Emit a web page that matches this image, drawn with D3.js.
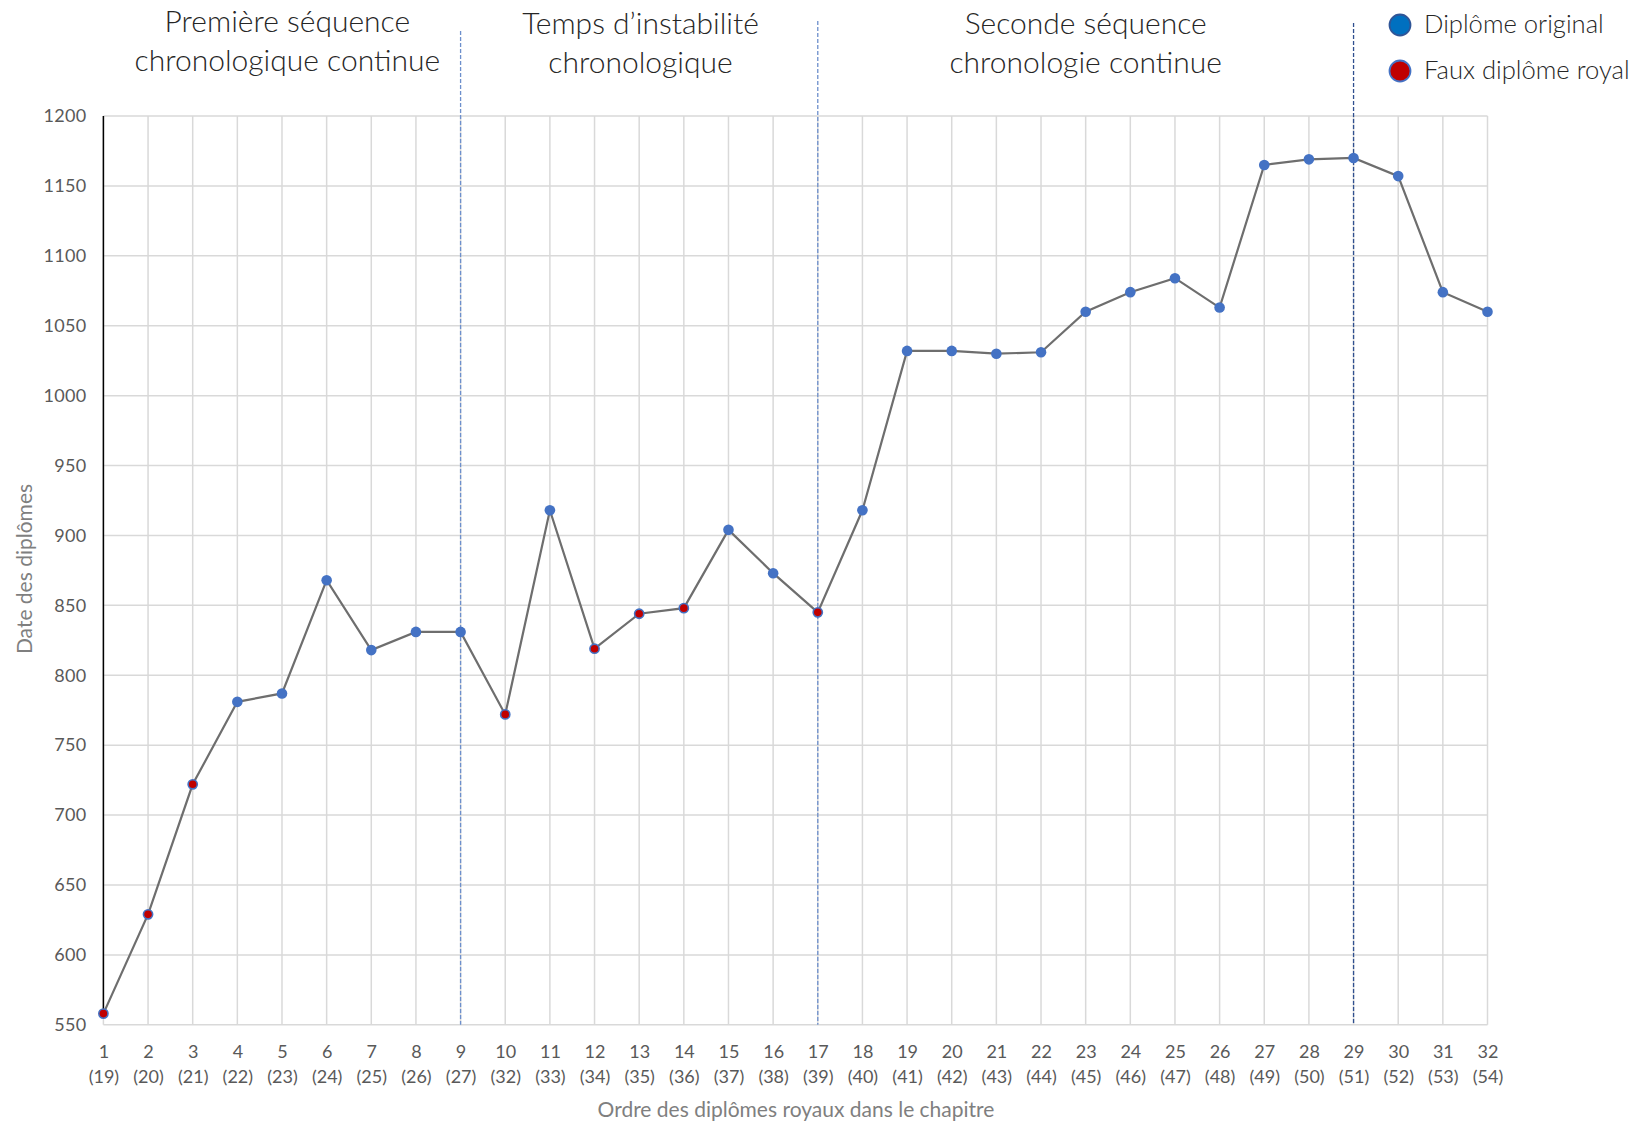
<!DOCTYPE html>
<html>
<head>
<meta charset="utf-8">
<script src="https://cdn.jsdelivr.net/npm/d3@7"></script>
<style>
  html, body { margin: 0; padding: 0; background: #ffffff; }
  svg { display: block; font-family: Lato, "Open Sans", sans-serif; }
</style>
</head>
<body>
<svg id="chart" width="1638" height="1126"></svg>
<script>
// Rank of each royal diploma in the series (1..32)
const order = d3.range(1, 33);
// Its position in the chapter
const chapterIndex = [19, 20, 21, 22, 23, 24, 25, 26, 27, 32, 33, 34, 35, 36, 37, 38,
                      39, 40, 41, 42, 43, 44, 45, 46, 47, 48, 49, 50, 51, 52, 53, 54];
// Date of each diploma
const dates = [558, 629, 722, 781, 787, 868, 818, 831, 831, 772, 918, 819, 844, 848, 904, 873,
               845, 918, 1032, 1032, 1030, 1031, 1060, 1074, 1084, 1063, 1165, 1169, 1170, 1157, 1074, 1060];
// Forged royal diplomas (true) vs originals (false)
const forged = [true, true, true, false, false, false, false, false, false, true, false, true, true, true, false, false,
                true, false, false, false, false, false, false, false, false, false, false, false, false, false, false, false];
// Period boundaries (order positions)
const boundaries = [9, 17, 29];
const periodTitles = [
  ["Première séquence", "chronologique continue"],
  ["Temps d’instabilité", "chronologique"],
  ["Seconde séquence", "chronologie continue"]
];
const periodCenters = [5.12, 13.03, 23.0];
const yTicks = d3.range(550, 1201, 50);
const legendItems = ["Diplôme original", "Faux diplôme royal"];

const svg = d3.select("#chart");
const x = d3.scaleLinear().domain([1, 32]).range([103.4, 1487.5]);
const y = d3.scaleLinear().domain([550, 1200]).range([1024.8, 116]);

const BLUE = "#4472c4", RED = "#c00000", GRID = "#d9d9d9", LABEL = "#595959";

// Gridlines
const grid = svg.append("g");
grid.selectAll("line.h").data(yTicks).join("line")
  .attr("x1", x(1)).attr("x2", x(32))
  .attr("y1", d => y(d)).attr("y2", d => y(d))
  .attr("stroke", GRID).attr("stroke-width", 1.5);
grid.selectAll("line.v").data(order).join("line")
  .attr("x1", d => x(d)).attr("x2", d => x(d))
  .attr("y1", y(1200)).attr("y2", y(550))
  .attr("stroke", GRID).attr("stroke-width", 1.5);

// Y axis
const yAxis = svg.append("g")
  .attr("transform", `translate(${x(1)},0)`)
  .call(d3.axisLeft(y).tickValues(yTicks).tickSize(0).tickPadding(17).tickFormat(d3.format("d")));
yAxis.select(".domain").remove();
yAxis.selectAll("text").attr("fill", LABEL).style("font-size", "18px")
  .style("font-family", "Lato, sans-serif").style("letter-spacing", "0.3px");
svg.append("line")
  .attr("x1", x(1)).attr("x2", x(1))
  .attr("y1", y(1200)).attr("y2", y(dates[0]))
  .attr("stroke", "#000").attr("stroke-width", 1.5);

// X axis with two-line labels
const xAxis = svg.append("g")
  .attr("transform", `translate(0,${y(550)})`)
  .call(d3.axisBottom(x).tickValues(order).tickSize(0).tickPadding(0).tickFormat(() => ""));
xAxis.select(".domain").remove();
xAxis.selectAll(".tick text").each(function(d, i) {
  const t = d3.select(this).attr("fill", LABEL).style("font-size", "18px")
    .style("font-family", "Lato, sans-serif").attr("y", 0).attr("dy", null);
  t.append("tspan").attr("x", 0).attr("y", 33).text(d);
  t.append("tspan").attr("x", 0).attr("y", 58).text(`(${chapterIndex[i]})`);
});

// Period separators
const sepColors = ["#6d8fcc", "#6d8fcc", "#2f4f8f"];
const sepTop = [31, 21, 23];
svg.append("g").selectAll("line").data(boundaries).join("line")
  .attr("x1", d => x(d)).attr("x2", d => x(d))
  .attr("y1", (d, i) => sepTop[i]).attr("y2", y(550))
  .attr("stroke", (d, i) => sepColors[i]).attr("stroke-width", 1.3)
  .attr("stroke-dasharray", "4,2");

// Data line
const line = d3.line().x((d, i) => x(order[i])).y(d => y(d));
svg.append("path").datum(dates)
  .attr("d", line).attr("fill", "none")
  .attr("stroke", "#6e6e6e").attr("stroke-width", 2.2);

// Markers
svg.append("g").selectAll("circle").data(dates).join("circle")
  .attr("cx", (d, i) => x(order[i])).attr("cy", d => y(d))
  .attr("r", (d, i) => forged[i] ? 4.6 : 5.3)
  .attr("fill", (d, i) => forged[i] ? RED : BLUE)
  .attr("stroke", BLUE).attr("stroke-width", (d, i) => forged[i] ? 1.6 : 0);

// Period titles
const titleY = [32, 34, 34];
const titles = svg.append("g").attr("fill", "#262626")
  .style("font-size", "30px").style("font-weight", 300);
periodTitles.forEach((lines, i) => {
  lines.forEach((s, j) => {
    titles.append("text")
      .attr("x", x(periodCenters[i])).attr("y", titleY[i] + j * 38.5)
      .attr("text-anchor", "middle").text(s);
  });
});

// Axis titles
svg.append("text")
  .attr("x", 796).attr("y", 1117)
  .attr("text-anchor", "middle").attr("fill", "#7f7f7f")
  .style("font-size", "21px").text("Ordre des diplômes royaux dans le chapitre");
svg.append("text")
  .attr("transform", "translate(32,569) rotate(-90)")
  .attr("text-anchor", "middle").attr("fill", "#7f7f7f")
  .style("font-size", "21px").text("Date des diplômes");

// Legend
const legend = svg.append("g");
legendItems.forEach((s, i) => {
  const cy = 25 + i * 46;
  legend.append("circle")
    .attr("cx", 1400).attr("cy", cy).attr("r", 10.5)
    .attr("fill", i === 0 ? "#0070c0" : RED)
    .attr("stroke", i === 0 ? "#2f5597" : "#4472c4").attr("stroke-width", 1.8);
  legend.append("text")
    .attr("x", 1424).attr("y", cy + 8)
    .attr("fill", "#262626").style("font-size", "25.6px").style("font-weight", 300)
    .text(s);
});
</script>
</body>
</html>
